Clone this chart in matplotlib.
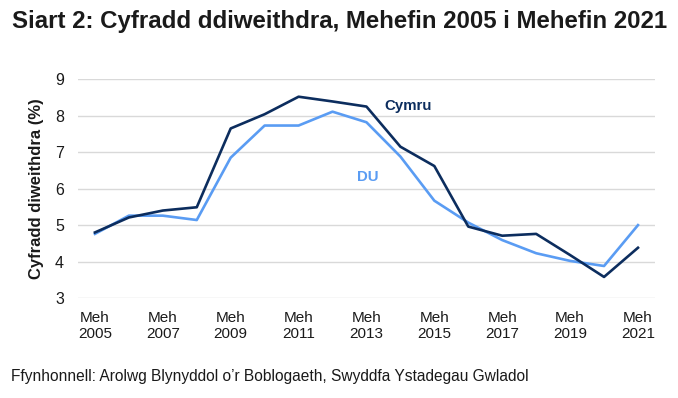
import matplotlib
matplotlib.use("Agg")
import matplotlib.pyplot as plt

plt.rcParams['font.family'] = ['Liberation Sans', 'DejaVu Sans']

years = list(range(2005, 2022))
cymru = [4.80, 5.21, 5.40, 5.49, 7.65, 8.04, 8.52, 8.39, 8.25, 7.15, 6.62,
         4.96, 4.71, 4.76, 4.18, 3.58, 4.38]
du = [4.76, 5.26, 5.26, 5.14, 6.85, 7.73, 7.73, 8.11, 7.82, 6.88, 5.67,
      5.07, 4.59, 4.23, 4.02, 3.88, 5.00]
tick_years = list(range(2005, 2022, 2))
tick_labels = ['Meh\n%d' % y for y in tick_years]

navy = '#0c2d5e'
light = '#5a9cf3'

fig = plt.figure(figsize=(6.78, 3.98), dpi=100)
ax = fig.add_axes([0.115, 0.251, 0.851, 0.550])

ax.plot(years, du, color=light, linewidth=1.9)
ax.plot(years, cymru, color=navy, linewidth=1.9)

ax.set_xlim(2004.5, 2021.5)
ax.set_ylim(3, 9)
ax.set_yticks(range(3, 10))
ax.set_xticks(tick_years)
ax.set_xticklabels(tick_labels, fontsize=11, color='#1a1a1a', linespacing=1.2)
ax.tick_params(axis='y', labelsize=11.5, labelcolor='#1a1a1a', length=0, pad=10)
ax.tick_params(axis='x', length=0, pad=9)
ax.grid(axis='y', color='#d9d9d9', linewidth=1)
for s in ax.spines.values():
    s.set_visible(False)
ax.set_axisbelow(True)

ax.set_ylabel('Cyfradd diweithdra (%)', fontsize=12, fontweight='bold',
              color='#1a1a1a', labelpad=8)

ax.text(2013.53, 8.27, 'Cymru', color=navy, fontsize=10.8, fontweight='bold',
        ha='left', va='center')
ax.text(2012.72, 6.31, 'DU', color=light, fontsize=10.8, fontweight='bold',
        ha='left', va='center')

fig.text(0.017, 0.947, 'Siart 2: Cyfradd ddiweithdra, Mehefin 2005 i Mehefin 2021',
         fontsize=17.3, fontweight='bold', color='#1a1a1a', ha='left', va='center')
fig.text(0.016, 0.055, 'Ffynhonnell: Arolwg Blynyddol o\u2019r Boblogaeth, Swyddfa Ystadegau Gwladol',
         fontsize=11.2, color='#1a1a1a', ha='left', va='center')

fig.savefig('out.png', dpi=100)
